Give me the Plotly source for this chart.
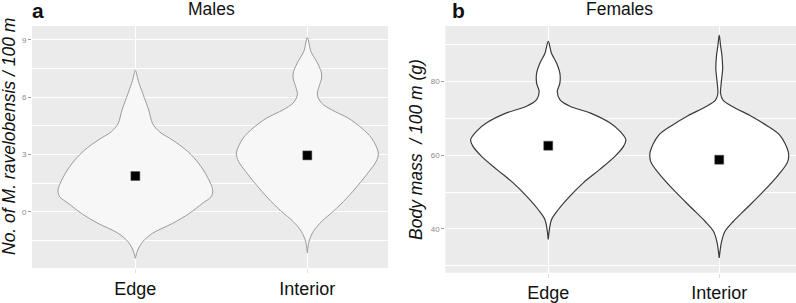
import plotly.graph_objects as go

categories = ["Edge", "Interior"]

# Density outline (value, half-width in category units)
male_edge_vals = [7.41, 6.89, 6.19, 5.32, 4.62, 4.19, 3.75, 3.23, 2.70, 2.01, 1.13, 0.78, 0.44, -0.09, -0.61, -1.13, -1.57, -2.01, -2.44]
male_edge_hw = [0, 0.016, 0.043, 0.078, 0.10, 0.14, 0.217, 0.295, 0.353, 0.407, 0.45, 0.44, 0.39, 0.314, 0.217, 0.10, 0.043, 0.014, 0]

male_int_vals = [9.12, 8.39, 7.87, 7.34, 7.0, 6.56, 6.12, 5.69, 5.34, 4.90, 4.38, 3.85, 3.07, 2.63, 2.11, 1.41, 0.71, 0.02, -0.51, -1.03, -1.55, -2.16]
male_int_hw = [0, 0.021, 0.054, 0.08, 0.083, 0.068, 0.058, 0.083, 0.141, 0.238, 0.316, 0.374, 0.413, 0.40, 0.359, 0.297, 0.229, 0.151, 0.083, 0.035, 0.01, 0]

fem_edge_vals = [90.9, 87.7, 85.0, 82.3, 79.6, 77.3, 75.1, 73.3, 71.5, 68.8, 66.5, 64.2, 62.4, 59.7, 56.1, 52.5, 48.9, 45.2, 42.5, 37.1]
fem_edge_hw = [0, 0.019, 0.049, 0.068, 0.068, 0.053, 0.068, 0.127, 0.244, 0.36, 0.42, 0.454, 0.44, 0.39, 0.30, 0.205, 0.127, 0.058, 0.019, 0]

fem_int_vals = [92.6, 89.7, 87.0, 83.4, 79.8, 76.7, 74.9, 73.1, 70.8, 68.1, 65.4, 60.9, 58.2, 54.6, 50.1, 45.6, 42.0, 39.3, 36.6, 32.1]
fem_int_hw = [0, 0.008, 0.016, 0.02, 0.012, 0.008, 0.023, 0.082, 0.18, 0.277, 0.355, 0.404, 0.40, 0.345, 0.257, 0.16, 0.082, 0.033, 0.014, 0]

male_means = [1.87, 2.95]
female_means = [62.6, 58.8]

male_ticks = [0, 3, 6, 9]
female_ticks = [40, 60, 80]

fig = go.Figure()


def violin(pos, vals, hw, xa, ya, fill, line, lw):
    xs = [pos + w for w in hw] + [pos - w for w in reversed(hw)]
    ys = list(vals) + list(reversed(vals))
    fig.add_trace(go.Scatter(x=xs, y=ys, mode="lines", fill="toself",
                             fillcolor=fill, line=dict(color=line, width=lw, shape="spline", smoothing=0.9),
                             xaxis=xa, yaxis=ya, showlegend=False, hoverinfo="skip"))


violin(1, male_edge_vals, male_edge_hw, "x", "y", "#F7F7F7", "#9A9A9A", 1)
violin(2, male_int_vals, male_int_hw, "x", "y", "#F7F7F7", "#9A9A9A", 1)
violin(1, fem_edge_vals, fem_edge_hw, "x2", "y2", "#FFFFFF", "#3A3A3A", 1.2)
violin(2, fem_int_vals, fem_int_hw, "x2", "y2", "#FFFFFF", "#3A3A3A", 1.2)

fig.add_trace(go.Scatter(x=[1, 2], y=male_means, mode="markers", xaxis="x", yaxis="y",
                         marker=dict(symbol="square", size=9, color="black", line=dict(color="#555", width=0.5)),
                         showlegend=False))
fig.add_trace(go.Scatter(x=[1, 2], y=female_means, mode="markers", xaxis="x2", yaxis="y2",
                         marker=dict(symbol="square", size=9, color="black", line=dict(color="#555", width=0.5)),
                         showlegend=False))

W, H = 796, 303
FONT = "Liberation Sans, Arial, sans-serif"
tickfont = dict(family=FONT, size=8, color="#8A8A8A")
catfont = dict(family=FONT, size=18, color="#111")

xcommon = dict(tickmode="array", tickvals=[1, 2], ticktext=categories, tickfont=catfont,
               showgrid=True, gridcolor="white", gridwidth=1.2, zeroline=False, automargin=False,
               ticks="outside", ticklen=4, tickcolor="#E0E0E0", showline=False)
ycommon = dict(tickmode="array", tickfont=tickfont, automargin=False,
               ticks="outside", ticklen=3, tickcolor="#9A9A9A",
               showgrid=True, gridcolor="white", gridwidth=1.2, zeroline=False, showline=False)

fig.update_layout(
    width=W, height=H,
    margin=dict(l=0, r=0, t=0, b=0, autoexpand=False),
    paper_bgcolor="white", plot_bgcolor="#EBEBEB",
    xaxis=dict(domain=[32 / W, 388 / W], range=[0.399, 2.469], anchor="y", **xcommon),
    yaxis=dict(domain=[(H - 268) / H, (H - 26) / H], range=[-2.95, 9.73], anchor="x",
               tickvals=male_ticks,
               minor=dict(dtick=1.5, tick0=0, showgrid=True, gridcolor="white", gridwidth=0.6, ticks=""),
               **ycommon),
    xaxis2=dict(domain=[445.3 / W, 1.0], range=[0.398, 2.449], anchor="y2", **xcommon),
    yaxis2=dict(domain=[(H - 272.7) / H, (H - 26) / H], range=[28.1, 95.1], anchor="x2",
                tickvals=female_ticks,
                minor=dict(dtick=10, tick0=0, showgrid=True, gridcolor="white", gridwidth=0.6, ticks=""),
                **ycommon),
    font=dict(family=FONT),
)

ann_font = dict(family=FONT, size=17.5, color="#111")
lab_font = dict(family=FONT, size=21, color="#111")
common_ann = dict(xref="paper", yref="paper", showarrow=False, xanchor="center", yanchor="middle")
fig.add_annotation(text="<b>a</b>", x=38 / W, y=1 - 10.5 / H, font=lab_font, **common_ann)
fig.add_annotation(text="Males", x=211.5 / W, y=1 - 9.5 / H, font=ann_font, **common_ann)
fig.add_annotation(text="<b>b</b>", x=458 / W, y=1 - 10.5 / H, font=lab_font, **common_ann)
fig.add_annotation(text="Females", x=619.5 / W, y=1 - 9.5 / H, font=ann_font, **common_ann)
fig.add_annotation(text="<i>No. of M. ravelobensis / 100 m</i>", x=9 / W, y=1 - 137 / H,
                   textangle=-90, font=ann_font, **common_ann)
fig.add_annotation(text="<i>Body mass  / 100 m (g)</i>", x=416 / W, y=1 - 150 / H,
                   textangle=-90, font=ann_font, **common_ann)

fig.write_html("out.html", config={"displayModeBar": False},
               post_script="document.body.style.margin='0px';document.body.style.overflow='hidden';")
